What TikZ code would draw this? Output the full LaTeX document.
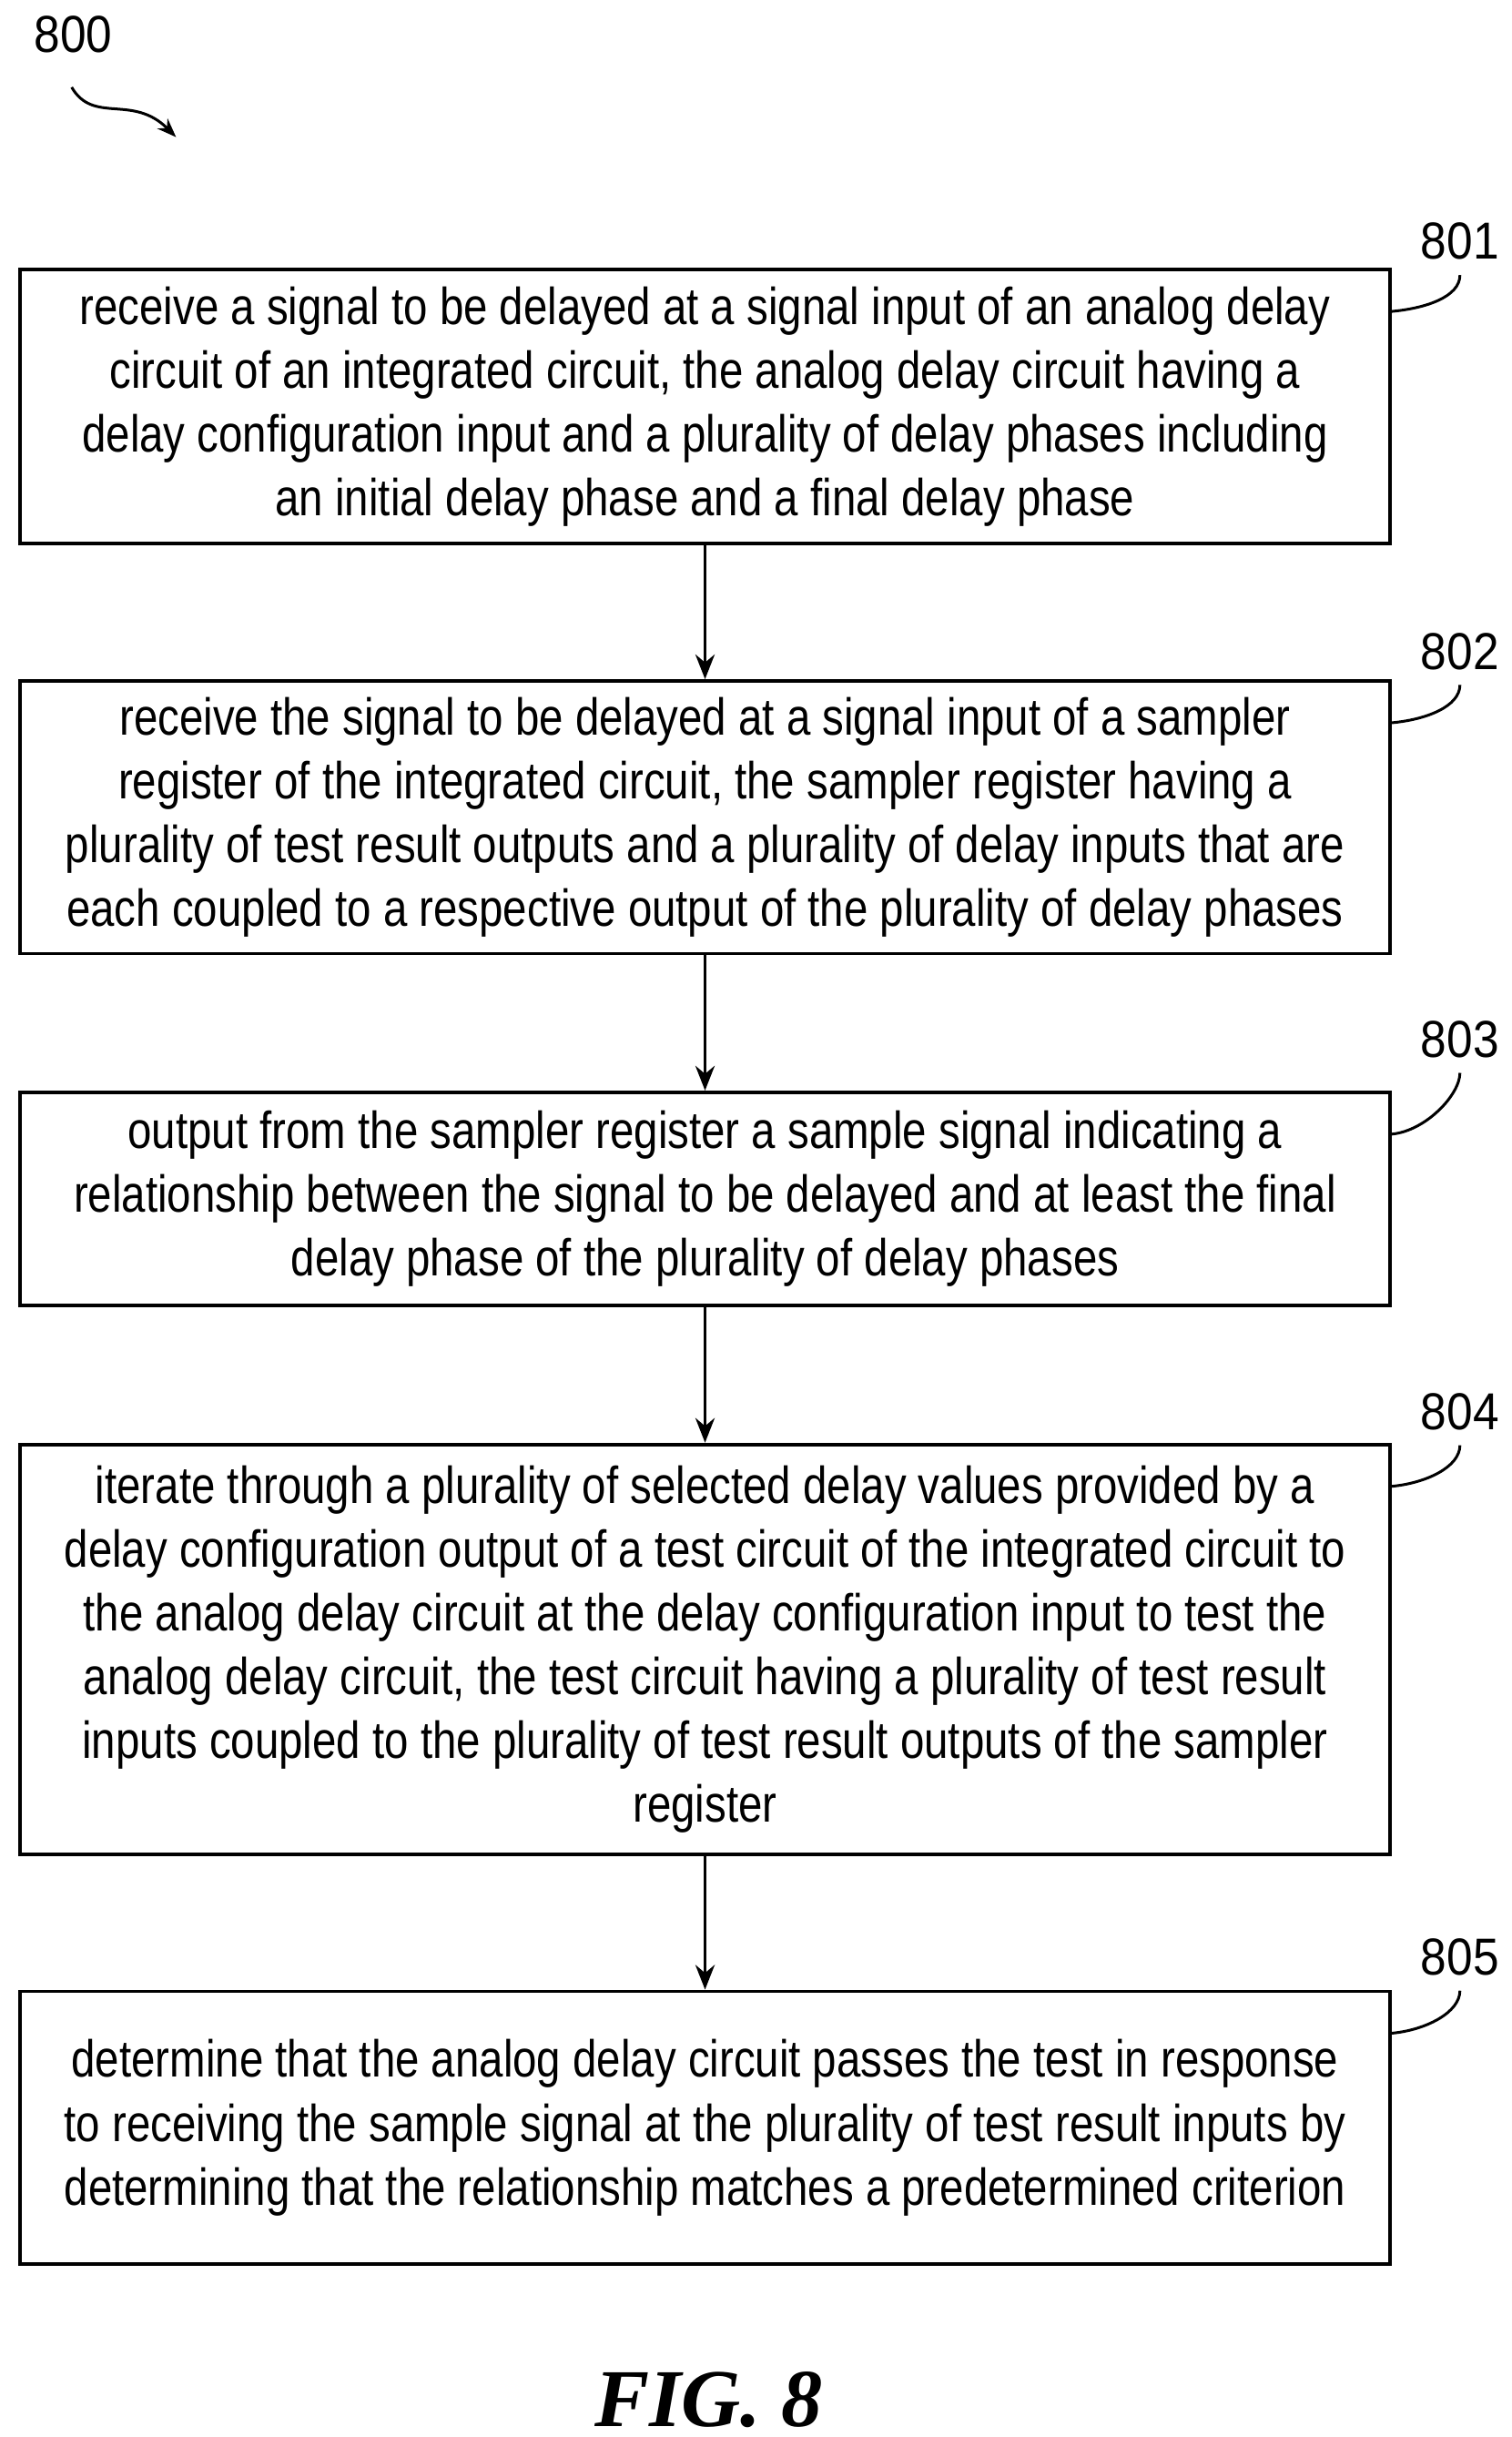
\documentclass[tikz,border=0pt]{standalone}
\usepackage{fontspec}
\setmainfont[FakeStretch=0.83]{Liberation Sans}
\newfontfamily\tagfont[FakeStretch=0.9]{Liberation Sans}
\newfontfamily\figfont{Liberation Serif}
\usetikzlibrary{positioning,arrows.meta}
\begin{document}
\begin{tikzpicture}[x=0.02cm,y=-0.02cm,
  stepbox/.style={draw,line width=1.3pt,minimum width=17.58cm,align=center,
    font=\fontsize{19}{23.3}\selectfont},
  tag/.style={font=\tagfont\fontsize{19}{22}\selectfont},
  flow/.style={-{Stealth[length=9pt,width=7pt]},line width=1.3pt}]
\useasboundingbox (0,0) rectangle (970,1564);

% steps
\node[stepbox,minimum height=3.52cm] (s801) at (452.5,261) {receive a signal to be delayed at a signal input of an analog delay\\circuit of an integrated circuit, the analog delay circuit having a\\delay configuration input and a plurality of delay phases including\\an initial delay phase and a final delay phase};
\node[stepbox,minimum height=3.5cm] (s802) at (452.5,524.5) {receive the signal to be delayed at a signal input of a sampler\\register of the integrated circuit, the sampler register having a\\plurality of test result outputs and a plurality of delay inputs that are\\each coupled to a respective output of the plurality of delay phases};
\node[stepbox,minimum height=2.74cm] (s803) at (452.5,769.5) {output from the sampler register a sample signal indicating a\\relationship between the signal to be delayed and at least the final\\delay phase of the plurality of delay phases};
\node[stepbox,minimum height=5.26cm] (s804) at (452.5,1058.5) {iterate through a plurality of selected delay values provided by a\\delay configuration output of a test circuit of the integrated circuit to\\the analog delay circuit at the delay configuration input to test the\\analog delay circuit, the test circuit having a plurality of test result\\inputs coupled to the plurality of test result outputs of the sampler\\register};
\node[stepbox,minimum height=3.5cm] (s805) at (452.5,1365.5) {determine that the analog delay circuit passes the test in response\\to receiving the sample signal at the plurality of test result inputs by\\determining that the relationship matches a predetermined criterion};

% arrows
\draw[flow] (s801) -- (s802);
\draw[flow] (s802) -- (s803);
\draw[flow] (s803) -- (s804);
\draw[flow] (s804) -- (s805);

% reference numerals
\foreach \n/\y in {801/155,802/418,803/667,804/906,805/1256}{
  \node[tag] (t\n) at (937,\y) {\n};
  \draw[line width=1pt] (s\n.north east) ++(0,28) .. controls +(22,-2) and +(0,14) .. ([yshift=-2pt]t\n.south);
}
\node[tag] (t800) at (47,22) {800};
\coordinate (a800) at (113,88);
\draw[line width=1pt,-{Stealth[length=7pt]}] (46,56) .. controls (60,80) and (85,60) .. (a800);

\node[font=\figfont\bfseries\itshape\fontsize{30}{34}\selectfont] (fig) at (455,1540) {FIG. 8};
\end{tikzpicture}
\end{document}
